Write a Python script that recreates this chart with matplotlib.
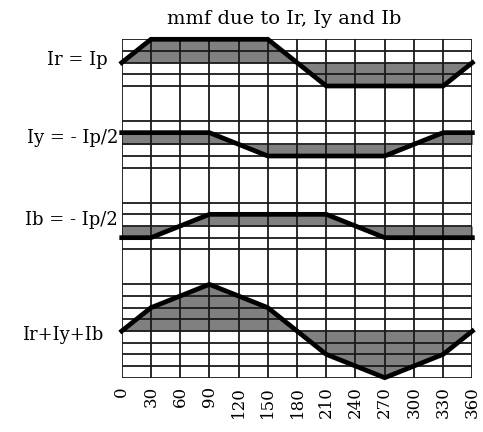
import matplotlib
matplotlib.use("Agg")
import matplotlib.pyplot as plt

# angle in degrees, currents in units of Ip
angles = [0, 30, 60, 90, 120, 150, 180, 210, 240, 270, 300, 330, 360]
ir = [0, 1, 1, 1, 1, 1, 0, -1, -1, -1, -1, -1, 0]
iy = [0.5, 0.5, 0.5, 0.5, 0, -0.5, -0.5, -0.5, -0.5, -0.5, 0, 0.5, 0.5]
ib = [-0.5, -0.5, 0, 0.5, 0.5, 0.5, 0.5, 0.5, 0, -0.5, -0.5, -0.5, -0.5]
total = [0, 1, 1.5, 2, 1.5, 1, 0, -1, -1.5, -2, -1.5, -1, 0]

labels = ["Ir = Ip", "Iy = - Ip/2", "Ib = - Ip/2", "Ir+Iy+Ib"]
xticks = list(range(0, 361, 30))

# grid layout: 2 grid rows per Ip, strips stacked bottom-up
scale = 2
bases = [27, 20, 13, 4]      # baseline row of each strip
halfs = [2, 2, 2, 4]         # rows above/below baseline
label_y = [27.2, 20.5, 13.5, 3.7]
label_x = [-0.039, -0.01, -0.01, -0.053]

plt.rcParams['font.family'] = ['DejaVu Serif']

fig = plt.figure(figsize=(4.83, 4.32), dpi=100)
ax = fig.add_axes([0.252, 0.1257, 0.726, 0.7833])
ax.set_xlim(0, 360)
ax.set_ylim(0, 29)

for base, h in zip(bases, halfs):
    ax.hlines(range(base - h, base + h + 1), 0, 360, color='#1a1a1a', lw=1.3, zorder=2)
ax.vlines(xticks, 0, 29, color='#1a1a1a', lw=1.3, zorder=2)

for vals, base in zip([ir, iy, ib, total], bases):
    y = [base + v * scale for v in vals]
    ax.fill_between(angles, base, y, color='#808080', lw=0, zorder=1)
    ax.plot(angles, y, color='black', lw=3.4, zorder=3, clip_on=False,
            solid_joinstyle='miter')

for txt, yy, xx in zip(labels, label_y, label_x):
    ax.text(xx, yy, txt, transform=ax.get_yaxis_transform(), ha='right',
            va='center', fontsize=13)

ax.set_xticks(xticks)
ax.set_xticklabels([str(t) for t in xticks], rotation=90, fontsize=12)
ax.tick_params(axis='x', length=0, pad=6)
ax.set_yticks([])
for s in ax.spines.values():
    s.set_visible(False)

fig.text(0.588, 0.956, "mmf due to Ir, Iy and Ib", ha='center', va='center',
         fontsize=14)

fig.savefig("out.png", dpi=100)
